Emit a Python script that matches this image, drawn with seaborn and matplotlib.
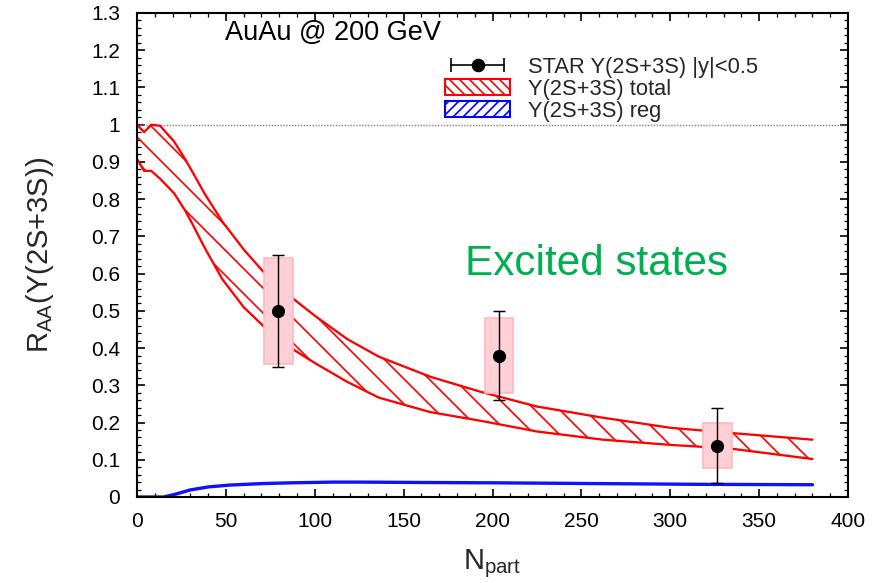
import numpy as np
import pandas as pd
import matplotlib
matplotlib.use("Agg")
import matplotlib.pyplot as plt
import seaborn as sns
from matplotlib.lines import Line2D
from matplotlib.patches import Patch
from matplotlib.legend_handler import HandlerLine2D, HandlerTuple
from matplotlib.ticker import MultipleLocator

# ---------------- data ----------------
band_npart = [0, 4, 8, 13, 21, 27, 31, 38, 48, 60, 72, 80, 100, 118, 136, 165, 193, 225, 262, 300, 334, 380]
band_upper = [1.0, 0.98, 1.0, 0.997, 0.954, 0.908, 0.875, 0.815, 0.74, 0.665, 0.6, 0.562, 0.487, 0.425,
              0.377, 0.323, 0.283, 0.243, 0.213, 0.186, 0.172, 0.154]
band_lower = [0.908, 0.876, 0.876, 0.855, 0.815, 0.77, 0.735, 0.67, 0.585, 0.51, 0.455, 0.42, 0.36, 0.31,
              0.267, 0.228, 0.205, 0.176, 0.154, 0.140, 0.130, 0.102]

reg_npart = [0, 15, 22, 30, 40, 52, 70, 86, 110, 125, 160, 204, 260, 317, 380]
reg_value = [0.0, 0.0, 0.008, 0.019, 0.027, 0.032, 0.036, 0.038, 0.040, 0.040, 0.039, 0.038, 0.036, 0.034, 0.033]

star_npart = [79.5, 203.5, 326.5]
star_raa = [0.50, 0.38, 0.138]
star_stat_lo = [0.15, 0.12, 0.10]
star_stat_hi = [0.15, 0.12, 0.10]
star_sys_lo = [0.356, 0.28, 0.078]
star_sys_hi = [0.641, 0.48, 0.199]

legend_labels = ["STAR Υ(2S+3S) |y|<0.5", "Υ(2S+3S) total", "Υ(2S+3S) reg"]

# ---------------- style ----------------
sns.set_style("ticks")
plt.rcParams["font.family"] = ["Liberation Sans", "DejaVu Sans"]
plt.rcParams["hatch.linewidth"] = 0.8

DPI = 150
fig = plt.figure(figsize=(889 / DPI, 583 / DPI), dpi=DPI)
ax = fig.add_axes([137 / 889, 1 - 497 / 583, (848 - 137) / 889, (497 - 13) / 583])

band = pd.DataFrame({"npart": band_npart, "upper": band_upper, "lower": band_lower})
reg = pd.DataFrame({"npart": reg_npart, "value": reg_value})

# red hatched band (total)
with plt.rc_context({"hatch.color": "red"}):
    ax.fill_between(band["npart"], band["lower"], band["upper"], facecolor="none",
                    edgecolor="red", linewidth=0, hatch="\\\\")
sns.lineplot(data=band, x="npart", y="upper", color="red", lw=1.1, ax=ax, estimator=None, sort=False)
sns.lineplot(data=band, x="npart", y="lower", color="red", lw=1.1, ax=ax, estimator=None, sort=False)

# blue (regeneration)
sns.lineplot(data=reg, x="npart", y="value", color="#1010ff", lw=1.6, ax=ax, estimator=None, sort=False)

# dotted line at 1
ax.axhline(1.0, color="#888888", ls=(0, (1, 1)), lw=0.7, zorder=1)

# systematic boxes
sys_h = np.array(star_sys_hi) - np.array(star_sys_lo)
ax.bar(star_npart, sys_h, bottom=star_sys_lo, width=16, color=(1.0, 0.82, 0.84),
       edgecolor=(1.0, 0.72, 0.76), linewidth=0.8, zorder=3)

# STAR points with stat errors
ax.errorbar(star_npart, star_raa, yerr=[star_stat_lo, star_stat_hi], fmt="none",
            ecolor="black", elinewidth=0.7, capsize=3, capthick=0.7, zorder=4)
sns.scatterplot(x=star_npart, y=star_raa, color="black", s=34, ax=ax, zorder=5, edgecolor="black")

# ---------------- axes ----------------
ax.set_xlim(0, 400)
ax.set_ylim(0, 1.3)
ax.xaxis.set_major_locator(MultipleLocator(50))
ax.xaxis.set_minor_locator(MultipleLocator(10))
ax.yaxis.set_major_locator(MultipleLocator(0.1))
ax.yaxis.set_minor_locator(MultipleLocator(0.02))
ax.yaxis.set_major_formatter(matplotlib.ticker.FuncFormatter(lambda v, p: f"{v:.1f}".rstrip("0").rstrip(".") if v != 0 else "0"))
ax.tick_params(which="both", direction="in", top=True, right=True, colors="black", labelsize=10)
ax.tick_params(which="major", length=4, width=0.8)
ax.tick_params(which="minor", length=2, width=0.6)
ax.tick_params(axis="x", pad=7)
ax.tick_params(axis="y", pad=8)
for s in ax.spines.values():
    s.set_linewidth(1.0)
    s.set_color("black")

ax.set_xlabel(r"N$_{\mathregular{part}}$", fontsize=14, labelpad=8)
ax.set_ylabel(r"R$_{\mathregular{AA}}$(Υ(2S+3S))", fontsize=14, labelpad=17)

ax.text(0.124, 0.958, "AuAu @ 200 GeV", transform=ax.transAxes, fontsize=13,
        ha="left", va="center", color="black")
ax.text(0.646, 0.482, "Excited states", transform=ax.transAxes, fontsize=20.3,
        ha="center", va="center", color="#00b050")

# ---------------- legend ----------------
cap_line = Line2D([], [], color="black", lw=0.8, marker="|", markersize=7, mew=0.8)
dot = Line2D([], [], color="black", ls="none", marker="o", markersize=5.5)
red_patch = Patch(facecolor="white", edgecolor="red", hatch="\\\\\\\\\\", linewidth=1.0)
blue_patch = Patch(facecolor="white", edgecolor="blue", hatch="/////", linewidth=1.0)
ax.legend([(cap_line, dot), red_patch, blue_patch], legend_labels,
          handler_map={cap_line: HandlerLine2D(numpoints=2), dot: HandlerLine2D(numpoints=1),
                       tuple: HandlerTuple(ndivide=1, pad=0)},
          loc="upper left", bbox_to_anchor=(0.433, 0.91), frameon=False, fontsize=10.5,
          borderpad=0, borderaxespad=0, handlelength=3.0, handletextpad=0.82, labelspacing=0.05)

fig.savefig("out.png", dpi=DPI)
